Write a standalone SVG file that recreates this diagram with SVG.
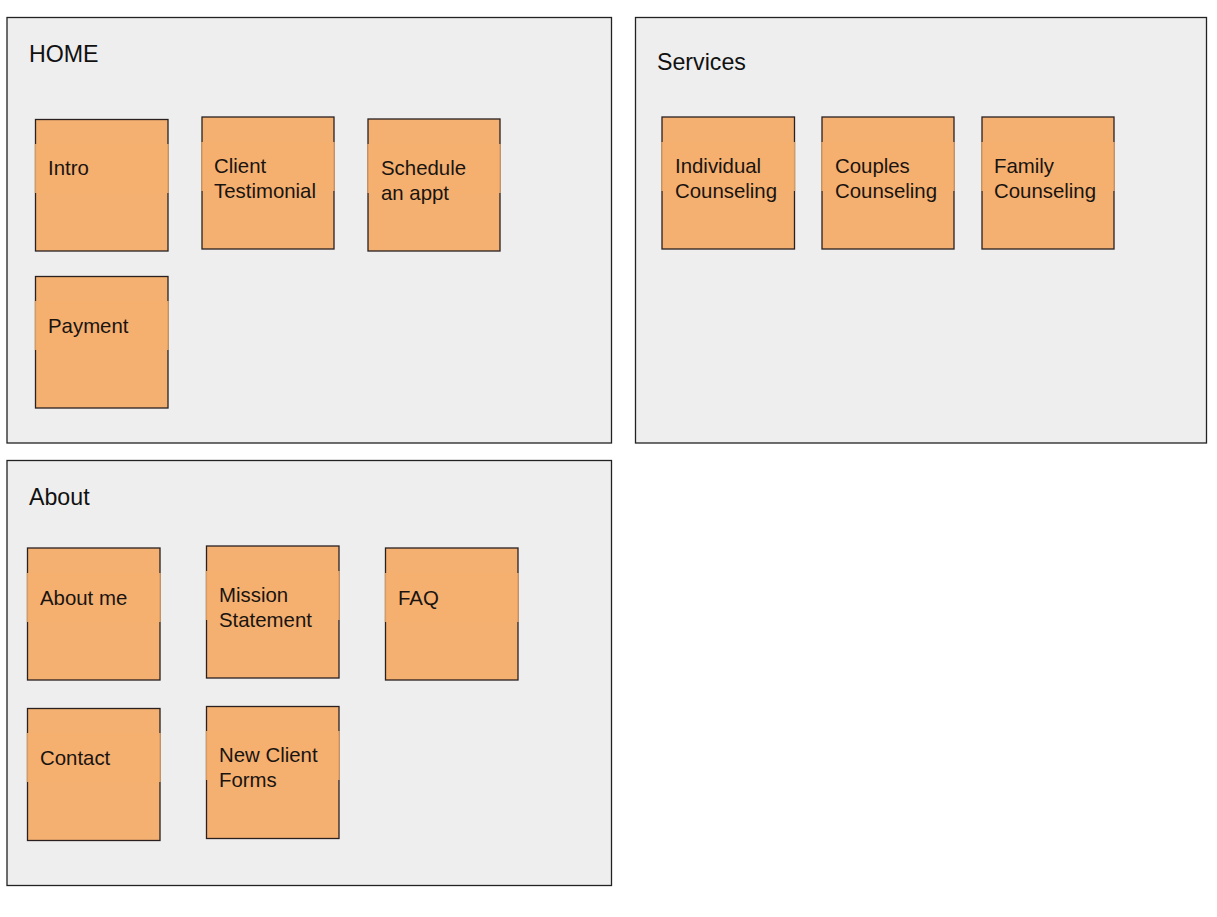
<svg xmlns="http://www.w3.org/2000/svg" width="1217" height="917" viewBox="0 0 1217 917">
<style>
.bg{fill:#ffffff}
.frame{fill:#eeeeee;stroke:#222;stroke-width:1.3}
.note{fill:#f4b070;stroke:#2a2020;stroke-width:1.3}
.gap{fill:#f4b070;fill-opacity:0.85}
.title{font-family:"Liberation Sans",Arial,sans-serif;font-size:23.2px;fill:#111}
.lbl{font-family:"Liberation Sans",Arial,sans-serif;font-size:20.4px;fill:#1a1410}
</style>
<rect class="bg" x="0" y="0" width="1217" height="917"/>
<g id="home">
<rect class="frame" x="7" y="17.5" width="604.5" height="425.5"/>
<text class="title" x="29" y="62">HOME</text>
</g>
<g id="services">
<rect class="frame" x="635.5" y="17.5" width="571" height="425.5"/>
<text class="title" x="657" y="70">Services</text>
</g>
<g id="about">
<rect class="frame" x="7" y="460.5" width="604.5" height="425"/>
<text class="title" x="29" y="505">About</text>
</g>
<g id="intro">
<rect class="note" x="35.5" y="119.5" width="132.5" height="131.5"/>
<rect class="gap" x="34.8" y="144" width="133.9" height="49"/>
<text class="lbl" x="48" y="175">Intro</text>
</g>
<g id="client-testimonial">
<rect class="note" x="202" y="117" width="132" height="132"/>
<rect class="gap" x="201.3" y="142" width="133.4" height="49"/>
<text class="lbl" x="214" y="173">Client</text>
<text class="lbl" x="214" y="198">Testimonial</text>
</g>
<g id="schedule">
<rect class="note" x="368" y="119" width="132" height="132"/>
<rect class="gap" x="367.3" y="144" width="133.4" height="49"/>
<text class="lbl" x="381" y="175">Schedule</text>
<text class="lbl" x="381" y="200">an appt</text>
</g>
<g id="payment">
<rect class="note" x="35.5" y="276.5" width="132.5" height="131.5"/>
<rect class="gap" x="34.8" y="301" width="133.9" height="49"/>
<text class="lbl" x="48" y="333">Payment</text>
</g>
<g id="individual">
<rect class="note" x="662" y="117" width="132.5" height="132"/>
<rect class="gap" x="661.3" y="142" width="133.9" height="49"/>
<text class="lbl" x="675" y="173">Individual</text>
<text class="lbl" x="675" y="198">Counseling</text>
</g>
<g id="couples">
<rect class="note" x="822" y="117" width="132" height="132"/>
<rect class="gap" x="821.3" y="142" width="133.4" height="49"/>
<text class="lbl" x="835" y="173">Couples</text>
<text class="lbl" x="835" y="198">Counseling</text>
</g>
<g id="family">
<rect class="note" x="982" y="117" width="132" height="132"/>
<rect class="gap" x="981.3" y="142" width="133.4" height="49"/>
<text class="lbl" x="994" y="173">Family</text>
<text class="lbl" x="994" y="198">Counseling</text>
</g>
<g id="about-me">
<rect class="note" x="27.5" y="548" width="132.5" height="132"/>
<rect class="gap" x="26.8" y="573" width="133.9" height="49"/>
<text class="lbl" x="40" y="605">About me</text>
</g>
<g id="mission">
<rect class="note" x="206.5" y="546" width="132.5" height="132"/>
<rect class="gap" x="205.8" y="571" width="133.9" height="49"/>
<text class="lbl" x="219" y="602">Mission</text>
<text class="lbl" x="219" y="627">Statement</text>
</g>
<g id="faq">
<rect class="note" x="385.5" y="548" width="132.5" height="132"/>
<rect class="gap" x="384.8" y="573" width="133.9" height="49"/>
<text class="lbl" x="398" y="605">FAQ</text>
</g>
<g id="contact">
<rect class="note" x="27.5" y="708.5" width="132.5" height="132"/>
<rect class="gap" x="26.8" y="733" width="133.9" height="49"/>
<text class="lbl" x="40" y="765">Contact</text>
</g>
<g id="new-client-forms">
<rect class="note" x="206.5" y="706.5" width="132.5" height="132"/>
<rect class="gap" x="205.8" y="731" width="133.9" height="49"/>
<text class="lbl" x="219" y="762">New Client</text>
<text class="lbl" x="219" y="787">Forms</text>
</g>
<g id="connectors"></g>
</svg>
